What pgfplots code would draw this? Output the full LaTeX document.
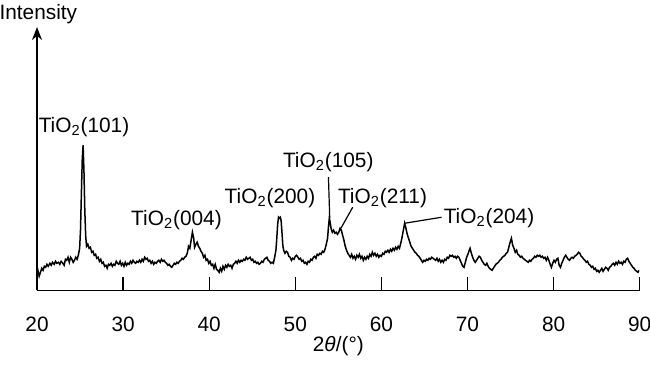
\documentclass[border=0pt]{standalone}
\usepackage{pgfplots}
\pgfplotsset{compat=1.18}
\usetikzlibrary{arrows.meta}
\usepackage{fontspec}
\setmainfont{Liberation Sans}
\begin{document}
\fontsize{10.4}{12.5}\selectfont
\begin{tikzpicture}
\begin{axis}[
  scale only axis, width=301pt, height=131.5pt,
  xmin=20, xmax=90, ymin=0, ymax=263,
  axis x line*=bottom, axis y line*=left,
  x axis line style={-},
  y axis line style={-{Stealth[length=6.5pt,width=5pt]}},
  axis line style={line width=0.7pt, black},
  xtick={20,30,...,90}, ytick=\empty,
  xtick pos=bottom,
  tick align=inside, major tick length=6.5pt,
  xtick style={line width=0.7pt, black},
  xticklabel style={anchor=base, yshift=-20.5pt},
  /pgf/number format/assume math mode=true,
  xlabel={2\textit{θ}/(°)},
  xlabel style={at={(axis description cs:0.5,0)}, anchor=base, yshift=-30.5pt},
  clip=false,
]
\addplot[black, line width=0.75pt] coordinates {
(20.0,24)(20.1,20)(20.25,14)(20.4,18)(20.55,22)(20.7,20)(20.85,24)(21.0,23)(21.15,26)(21.3,24)
(21.5,27)(21.65,25)(21.8,28)(22.0,26)(22.15,29)(22.3,27)(22.5,28)(22.65,26)(22.8,29)(23.0,27)
(23.15,25)(23.3,31)(23.45,30)(23.6,33)(23.75,28)(23.9,33)(24.05,31)(24.2,28)(24.35,30)(24.5,33)
(24.65,31)(24.8,35)(24.95,42)(25.05,60)(25.15,95)(25.25,130)(25.35,145)(25.45,120)(25.55,80)(25.65,55)
(25.75,44)(25.9,46)(26.05,42)(26.2,43)(26.35,38)(26.5,39)(26.65,35)(26.8,36)(26.95,32)(27.1,33)
(27.25,29)(27.4,31)(27.55,27)(27.7,28)(27.85,24)(28.0,25)(28.15,22)(28.3,26)(28.45,25)(28.6,27)
(28.75,24)(28.9,26)(29.05,25)(29.2,29)(29.35,27)(29.5,26)(29.65,29)(29.8,25)(29.95,27)(30.1,24)
(30.25,28)(30.4,25)(30.55,27)(30.7,26)(30.85,29)(31.0,27)(31.15,30)(31.3,28)(31.45,27)(31.6,29)
(31.75,28)(31.9,30)(32.05,28)(32.2,31)(32.35,29)(32.5,33)(32.65,31)(32.8,32)(32.95,29)(33.1,30)
(33.25,27)(33.4,29)(33.55,26)(33.7,28)(33.85,27)(34.0,29)(34.15,30)(34.3,28)(34.45,31)(34.6,29)
(34.75,30)(34.9,28)(35.05,27)(35.2,25)(35.35,26)(35.5,24)(35.65,23)(35.8,25)(35.95,27)(36.1,26)
(36.25,28)(36.4,27)(36.55,29)(36.7,30)(36.85,32)(37.0,31)(37.15,33)(37.3,34)(37.45,37)(37.6,44)
(37.75,42)(37.9,50)(38.05,58)(38.2,52)(38.3,43)(38.45,46)(38.6,48)(38.75,44)(38.9,42)(39.05,39)
(39.2,37)(39.35,33)(39.5,35)(39.65,30)(39.8,31)(39.95,27)(40.1,29)(40.25,25)(40.4,26)(40.55,22)
(40.7,26)(40.85,21)(41.0,20)(41.15,18)(41.3,22)(41.45,19)(41.6,24)(41.75,21)(41.9,25)(42.05,23)
(42.2,26)(42.35,24)(42.5,25)(42.65,22)(42.8,26)(42.95,27)(43.1,29)(43.25,27)(43.4,30)(43.55,28)
(43.7,30)(43.85,29)(44.0,31)(44.15,30)(44.3,33)(44.45,31)(44.6,32)(44.75,33)(44.9,30)(45.05,31)
(45.2,28)(45.35,29)(45.5,27)(45.65,28)(45.8,26)(45.95,27)(46.1,29)(46.25,28)(46.4,31)(46.55,32)
(46.7,33)(46.85,30)(47.0,29)(47.15,27)(47.3,28)(47.45,27)(47.6,33)(47.75,40)(47.85,52)(47.95,66)
(48.05,73)(48.15,72)(48.25,73)(48.35,70)(48.45,58)(48.55,45)(48.65,40)(48.8,37)(48.95,39)(49.1,38)
(49.25,34)(49.4,33)(49.55,30)(49.7,32)(49.85,31)(50.0,34)(50.15,35)(50.3,33)(50.45,31)(50.6,32)
(50.75,29)(50.9,30)(51.05,27)(51.2,28)(51.35,26)(51.5,29)(51.65,28)(51.8,31)(51.95,30)(52.1,33)
(52.25,34)(52.4,32)(52.55,36)(52.7,35)(52.85,37)(53.0,36)(53.15,39)(53.3,38)(53.45,41)(53.6,46)
(53.75,52)(53.85,63)(53.95,72)(54.05,68)(54.15,62)(54.3,58)(54.45,60)(54.6,57)(54.75,58)(54.9,56)
(55.05,58)(55.2,62)(55.35,60)(55.5,55)(55.65,50)(55.8,44)(55.95,40)(56.1,37)(56.25,35)(56.4,33)
(56.55,36)(56.7,32)(56.85,34)(57.0,31)(57.15,35)(57.3,33)(57.45,36)(57.6,32)(57.75,34)(57.9,30)
(58.05,33)(58.2,31)(58.35,34)(58.5,32)(58.65,36)(58.8,34)(58.95,38)(59.1,35)(59.25,37)(59.4,34)
(59.55,36)(59.7,33)(59.85,35)(60.0,34)(60.15,37)(60.3,36)(60.45,39)(60.6,38)(60.75,40)(60.9,38)
(61.05,41)(61.2,39)(61.35,42)(61.5,40)(61.65,43)(61.8,41)(61.95,44)(62.1,42)(62.25,47)(62.4,53)
(62.55,60)(62.7,67)(62.85,62)(63.0,56)(63.15,52)(63.3,48)(63.45,44)(63.6,42)(63.75,40)(63.9,38)
(64.05,37)(64.2,35)(64.35,34)(64.5,32)(64.65,30)(64.8,28)(64.95,30)(65.1,29)(65.25,31)(65.4,30)
(65.55,32)(65.7,31)(65.85,33)(66.0,32)(66.15,31)(66.3,30)(66.45,32)(66.6,29)(66.75,31)(66.9,28)
(67.05,30)(67.2,28)(67.35,31)(67.5,30)(67.65,33)(67.8,32)(67.95,35)(68.1,34)(68.25,35)(68.4,33)
(68.55,34)(68.7,32)(68.85,34)(69.0,33)(69.15,30)(69.3,27)(69.45,24)(69.6,23)(69.75,28)(69.9,33)
(70.05,36)(70.2,40)(70.3,42)(70.45,37)(70.6,33)(70.75,30)(70.9,28)(71.05,30)(71.2,32)(71.35,34)
(71.5,33)(71.65,30)(71.8,28)(71.95,26)(72.1,25)(72.25,27)(72.4,24)(72.55,22)(72.7,21)(72.85,20)
(73.0,22)(73.15,24)(73.3,26)(73.45,27)(73.6,28)(73.75,30)(73.9,31)(74.05,33)(74.2,34)(74.35,35)
(74.5,37)(74.65,38)(74.8,43)(74.95,48)(75.1,52)(75.25,45)(75.4,42)(75.55,38)(75.7,40)(75.85,36)
(76.0,35)(76.15,33)(76.3,34)(76.45,32)(76.6,31)(76.75,30)(76.9,29)(77.05,28)(77.2,30)(77.35,29)
(77.5,31)(77.65,32)(77.8,34)(77.95,33)(78.1,35)(78.25,34)(78.4,35)(78.55,33)(78.7,34)(78.85,32)
(79.0,33)(79.15,30)(79.3,33)(79.45,30)(79.6,26)(79.75,23)(79.9,27)(80.05,30)(80.2,28)(80.35,31)
(80.5,32)(80.65,25)(80.8,23)(80.95,27)(81.1,30)(81.25,33)(81.4,35)(81.55,33)(81.7,31)(81.85,30)
(82.0,32)(82.15,33)(82.3,32)(82.45,34)(82.6,35)(82.75,36)(82.9,38)(83.05,37)(83.2,34)(83.35,33)
(83.5,31)(83.65,30)(83.8,28)(83.95,29)(84.1,26)(84.25,25)(84.4,23)(84.55,24)(84.7,21)(84.85,22)
(85.0,19)(85.15,20)(85.3,18)(85.45,20)(85.6,22)(85.75,19)(85.9,21)(86.05,23)(86.2,22)(86.35,20)
(86.5,23)(86.65,24)(86.8,26)(86.95,27)(87.1,25)(87.25,28)(87.4,26)(87.55,29)(87.7,27)(87.85,28)
(88.0,26)(88.15,29)(88.3,28)(88.45,31)(88.6,32)(88.75,29)(88.9,27)(89.05,25)(89.2,23)(89.35,22)
(89.5,20)(89.65,19)(89.8,18)(89.9,20)
};
\node[anchor=base, inner sep=0pt] at (axis cs:20.15,270.7) {Intensity};
\node[inner sep=0pt] at (axis cs:25.46,163) {TiO\textsubscript{2}(101)};
\node[inner sep=0pt] at (axis cs:36.2,70) {TiO\textsubscript{2}(004)};
\node[inner sep=0pt] at (axis cs:47.06,92) {TiO\textsubscript{2}(200)};
\node[inner sep=0pt] at (axis cs:53.83,128) {TiO\textsubscript{2}(105)};
\node[inner sep=0pt] at (axis cs:60.13,92) {TiO\textsubscript{2}(211)};
\node[inner sep=0pt] at (axis cs:72.5,72) {TiO\textsubscript{2}(204)};
\draw[line width=0.6pt] (axis cs:53.85,113) -- (axis cs:54.0,72);
\draw[line width=0.6pt] (axis cs:56.67,83) -- (axis cs:55.3,62);
\draw[line width=0.6pt] (axis cs:62.7,67) -- (axis cs:66.99,73);
\coordinate (bbl) at (axis cs:15.7,-75);
\coordinate (btr) at (axis cs:91.2,290);
\end{axis}
\pgfresetboundingbox
\path[use as bounding box] (bbl) rectangle (btr);
\end{tikzpicture}
\end{document}
